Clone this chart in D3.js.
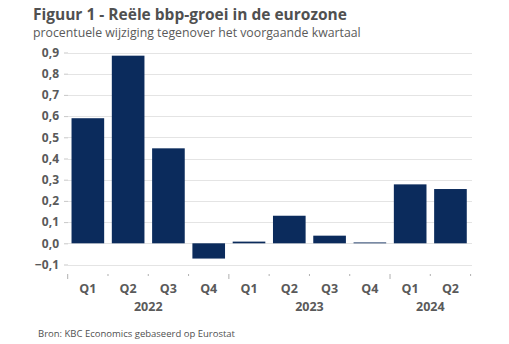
<!DOCTYPE html>
<html>
<head>
<meta charset="utf-8">
<script src="https://cdn.jsdelivr.net/npm/d3@7"></script>
<style>
  body { margin: 0; background: #fff; }
  text { font-family: "Open Sans", sans-serif; }
</style>
</head>
<body>
<div class="chart"></div>
<script>
// kwartalen en waarden (% q/q)
var quarters = ['Q1', 'Q2', 'Q3', 'Q4', 'Q1', 'Q2', 'Q3', 'Q4', 'Q1', 'Q2'];
var years = ['2022', '2022', '2022', '2022', '2023', '2023', '2023', '2023', '2024', '2024'];
var growth = [0.59, 0.885, 0.448, -0.072, 0.008, 0.13, 0.036, 0.004, 0.278, 0.256];
var yTicks = [-0.1, 0, 0.1, 0.2, 0.3, 0.4, 0.5, 0.6, 0.7, 0.8, 0.9];

var w = 509, h = 344;
var grey = '#5a5a5a', navy = '#0b2b5c';

var svg = d3.select('.chart').append('svg')
    .attr('width', w)
    .attr('height', h);

svg.append('text')
    .attr('x', 33).attr('y', 20)
    .attr('fill', '#505050')
    .style('font-size', '15.5px')
    .style('font-weight', 'bold')
    .text('Figuur 1 - Reële bbp-groei in de eurozone');

svg.append('text')
    .attr('x', 33).attr('y', 37)
    .attr('fill', grey)
    .style('font-size', '12.3px')
    .text('procentuele wijziging tegenover het voorgaande kwartaal');

var idx = d3.range(growth.length);

var x = d3.scaleBand()
    .domain(idx)
    .range([67.7, 470.6])
    .paddingInner(0.19)
    .paddingOuter(0.095);

var y = d3.scaleLinear()
    .domain([-0.1, 0.9])
    .range([264.5, 52.5]);

// rasterlijnen + labels
var yAxis = svg.append('g')
    .attr('transform', 'translate(68,0)')
    .call(d3.axisLeft(y)
        .tickValues(yTicks)
        .tickSize(4)
        .tickPadding(5)
        .tickFormat(function (d) { return d3.format('.1f')(d).replace('.', ','); }));
yAxis.select('.domain').remove();
yAxis.selectAll('line').attr('stroke', '#c8c8c8');
yAxis.selectAll('text')
    .attr('fill', grey)
    .style('font-size', '12px')
    .style('font-weight', 'bold')
    .style('font-family', '"Open Sans", sans-serif');

svg.append('g')
    .selectAll('line')
    .data(yTicks)
    .enter()
    .append('line')
    .attr('x1', 68).attr('x2', 472)
    .attr('y1', function (d) { return Math.round(y(d)) + 0.5; })
    .attr('y2', function (d) { return Math.round(y(d)) + 0.5; })
    .attr('stroke', '#e4e4e4');

svg.append('g')
    .selectAll('rect')
    .data(growth)
    .enter()
    .append('rect')
    .attr('x', function (d, i) { return x(i); })
    .attr('width', x.bandwidth())
    .attr('y', function (d) { return y(Math.max(0, d)); })
    .attr('height', function (d) { return Math.abs(y(d) - y(0)); })
    .attr('fill', navy);

// x-as: kwartaalticks en jaargroepen
var step = x.step();
var bounds = d3.range(growth.length + 1).map(function (i) {
    return i < growth.length ? x(i) - step * 0.095 : x(i - 1) + x.bandwidth() + step * 0.095;
});

svg.append('g')
    .selectAll('line')
    .data(bounds)
    .enter()
    .append('line')
    .attr('x1', function (d) { return d; })
    .attr('x2', function (d) { return d; })
    .attr('y1', 274)
    .attr('y2', function (d, i) { return (i === 0 || i === 4 || i === 8) ? 279 : 276; })
    .attr('stroke', '#b0b0b0');

svg.append('g')
    .selectAll('text')
    .data(quarters)
    .enter()
    .append('text')
    .attr('x', function (d, i) { return x(i) + x.bandwidth() / 2; })
    .attr('y', 293)
    .attr('text-anchor', 'middle')
    .attr('fill', grey)
    .style('font-size', '12.5px')
    .style('font-weight', 'bold')
    .text(function (d) { return d; });

var yearNames = _unique(years);
function _unique(a) { return a.filter(function (v, i) { return a.indexOf(v) === i; }); }

svg.append('g')
    .selectAll('text')
    .data(yearNames)
    .enter()
    .append('text')
    .attr('x', function (yr) {
        var first = years.indexOf(yr), last = years.lastIndexOf(yr);
        return (bounds[first] + bounds[last + 1]) / 2;
    })
    .attr('y', 311)
    .attr('text-anchor', 'middle')
    .attr('fill', grey)
    .style('font-size', '12.5px')
    .style('font-weight', 'bold')
    .text(function (d) { return d; });

svg.append('text')
    .attr('x', 38).attr('y', 337)
    .attr('fill', '#505050')
    .style('font-size', '9.5px')
    .text('Bron: KBC Economics gebaseerd op Eurostat');
</script>
</body>
</html>
